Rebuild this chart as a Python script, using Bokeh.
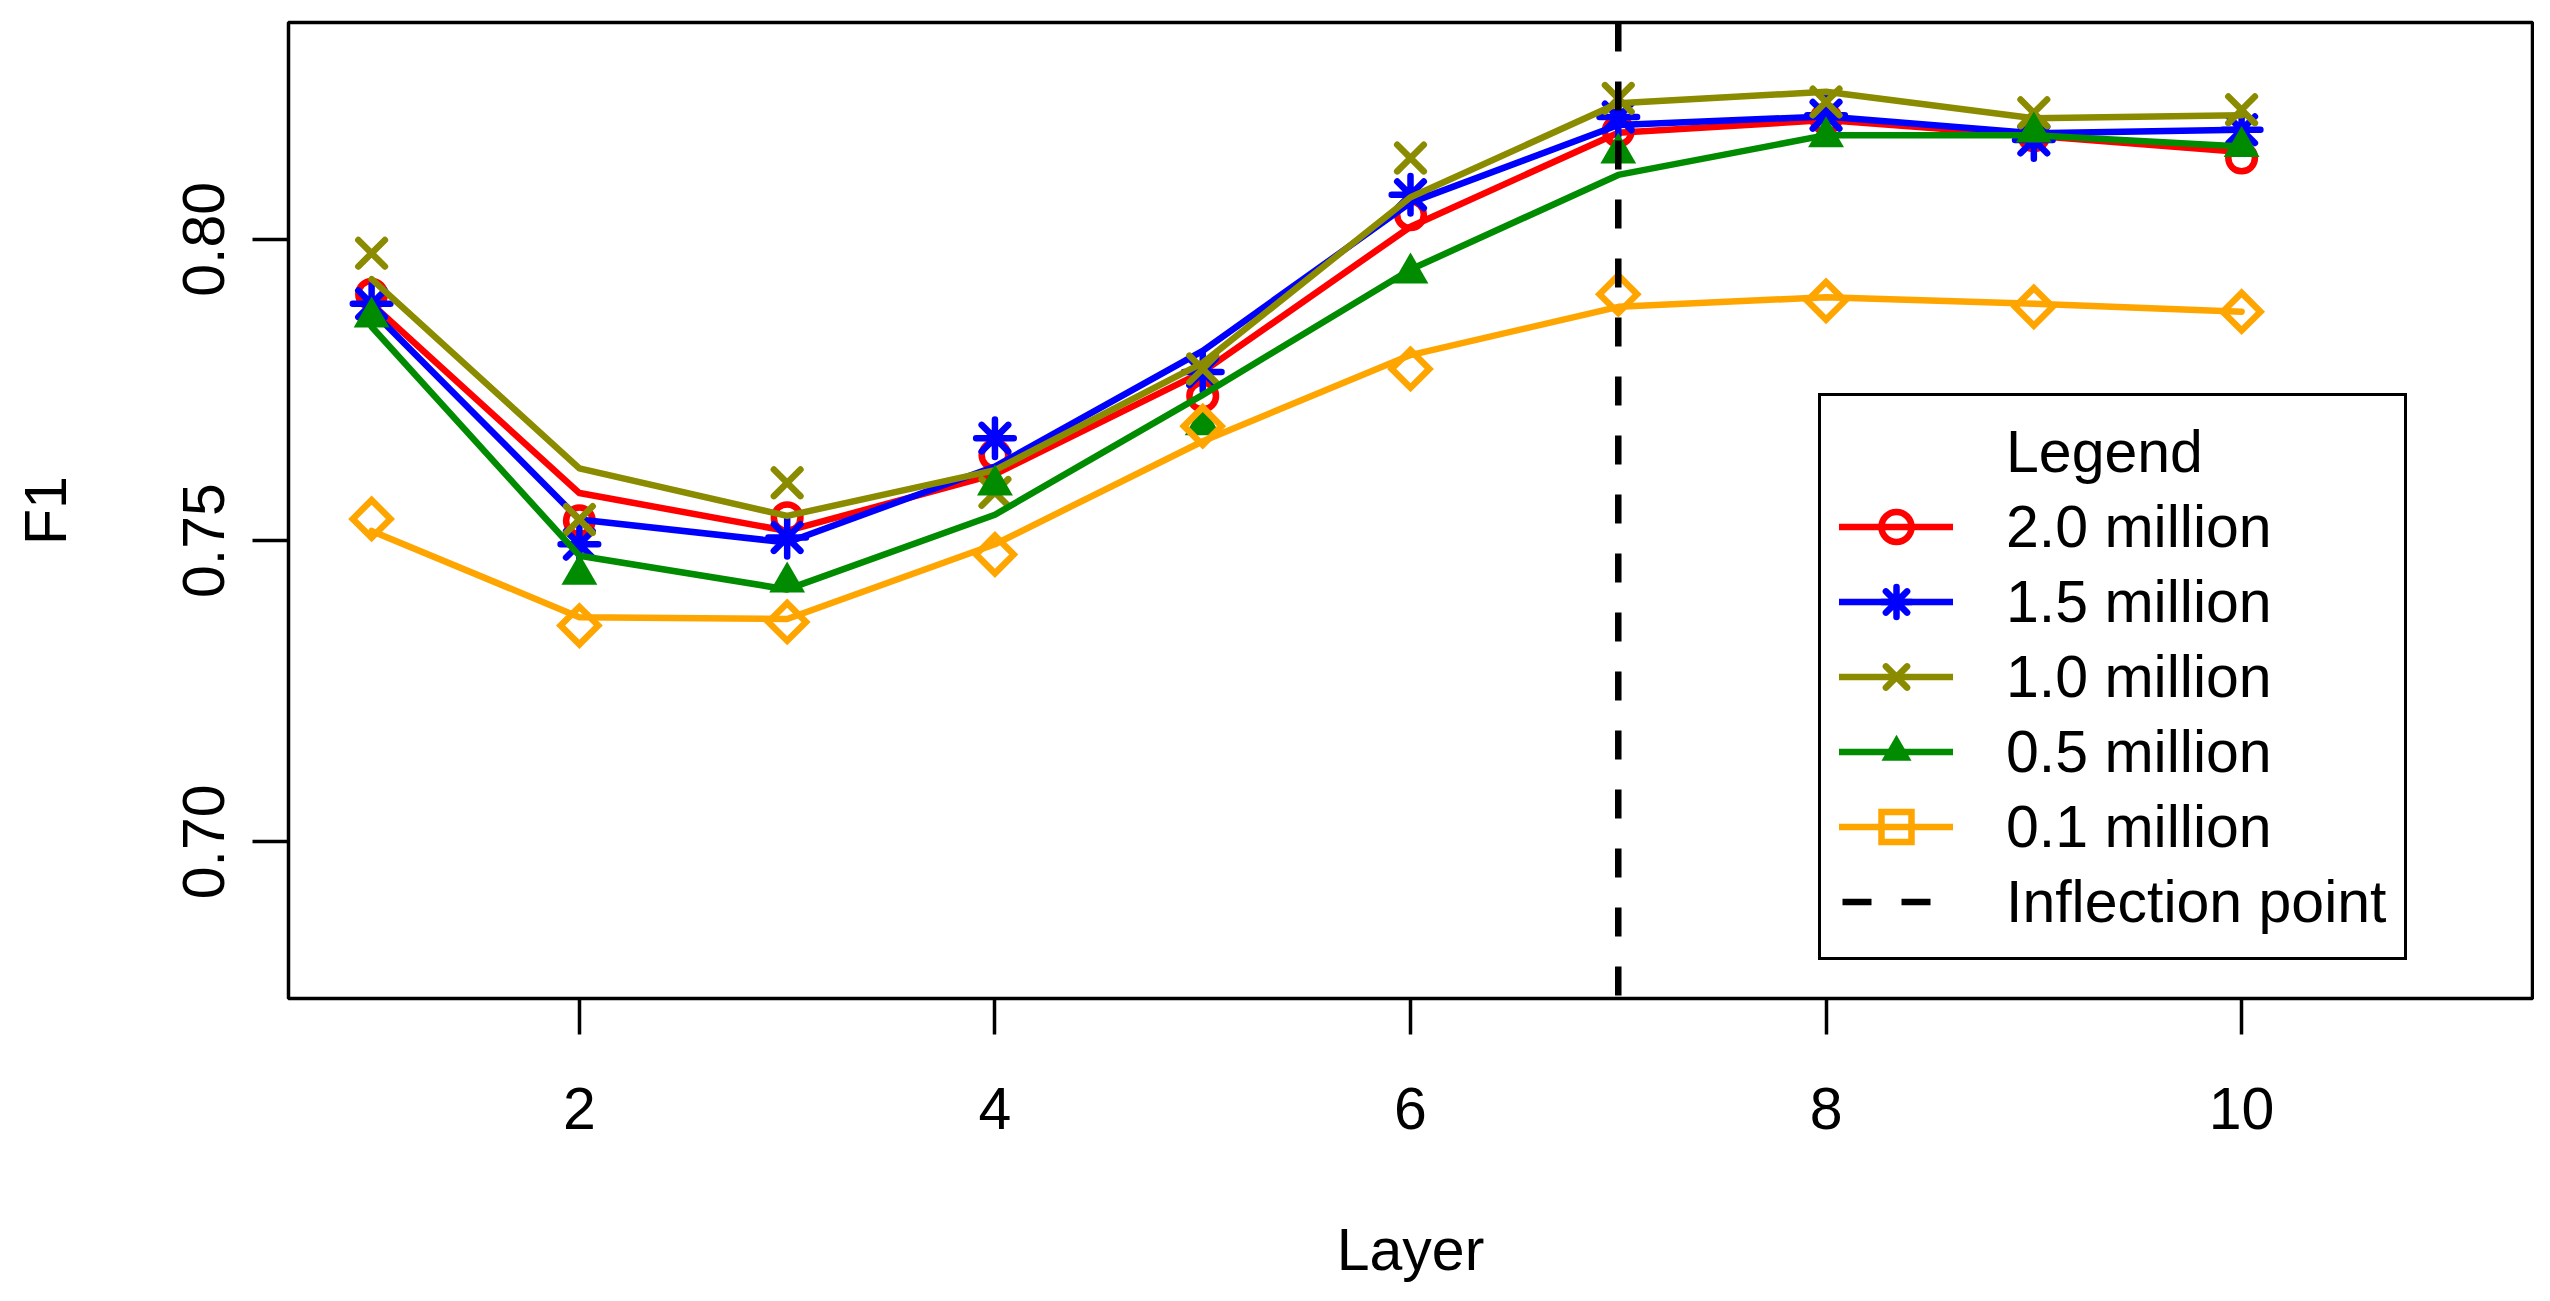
import math
from bokeh.plotting import figure
from bokeh.models import (Range1d, FixedTicker, PrintfTickFormatter,
                          Legend, LegendItem)
from bokeh.embed import file_html
from bokeh.resources import INLINE

# ---------------- data ----------------
layers = [1, 2, 3, 4, 5, 6, 7, 8, 9, 10]

names = ["2.0 million", "1.5 million", "1.0 million", "0.5 million", "0.1 million"]

# measured F1 (markers)
pts_2_0 = [0.7909, 0.7533, 0.7538, 0.7642, 0.7740, 0.8041, 0.8180, 0.8200, 0.8172, 0.8135]
pts_1_5 = [0.7893, 0.7494, 0.7505, 0.7670, 0.7780, 0.8074, 0.8203, 0.8206, 0.8165, 0.8182]
pts_1_0 = [0.7977, 0.7535, 0.7596, 0.7580, 0.7785, 0.8135, 0.8234, 0.8228, 0.8210, 0.8215]
pts_0_5 = [0.7871, 0.7444, 0.7431, 0.7592, 0.7692, 0.7944, 0.8143, 0.8170, 0.8178, 0.8154]
pts_0_1 = [0.7536, 0.7359, 0.7365, 0.7477, 0.7690, 0.7785, 0.7909, 0.7898, 0.7888, 0.7880]

# smoothed trend (lines)
line_2_0 = [0.7893, 0.7579, 0.7516, 0.7610, 0.7780, 0.8021, 0.8177, 0.8198, 0.8172, 0.8145]
line_1_5 = [0.7882, 0.7535, 0.7497, 0.7623, 0.7815, 0.8061, 0.8190, 0.8204, 0.8176, 0.8182]
line_1_0 = [0.7934, 0.7620, 0.7541, 0.7617, 0.7795, 0.8070, 0.8226, 0.8245, 0.8201, 0.8206]
line_0_5 = [0.7855, 0.7475, 0.7419, 0.7543, 0.7742, 0.7950, 0.8107, 0.8173, 0.8173, 0.8154]
line_0_1 = [0.7516, 0.7373, 0.7370, 0.7494, 0.7665, 0.7808, 0.7888, 0.7904, 0.7893, 0.7880]

inflection_layer = 7

x_ticks = [2, 4, 6, 8, 10]
y_ticks = [0.70, 0.75, 0.80]
x_limits = [1, 11]
y_limits = [0.68, 0.83]

colors = ["#FF0000", "#0000FF", "#8B8B00", "#008B00", "#FFA500"]

# ---------------- figure ----------------
FONT = "Liberation Sans"
FS = "59px"
LW = 6.5

def padded(lo, hi):
    d = 0.04 * (hi - lo)
    return lo - d, hi + d

xr = padded(*x_limits)
yr = padded(*y_limits)

p = figure(width=2534, height=1285, output_backend="svg", toolbar_location=None,
           x_range=Range1d(*xr), y_range=Range1d(*yr),
           min_border_left=288, min_border_right=2, min_border_top=22,
           min_border_bottom=285)
p.background_fill_color = "white"
p.border_fill_color = "white"
p.outline_line_color = "black"
p.outline_line_width = 3.5
p.outline_line_alpha = 1.0
p.xgrid.visible = False
p.ygrid.visible = False

for ax in (p.xaxis[0], p.yaxis[0]):
    ax.axis_line_color = None
    ax.major_tick_line_color = "black"
    ax.major_tick_line_width = 3.5
    ax.major_tick_in = 0
    ax.major_tick_out = 36
    ax.minor_tick_line_color = None
    ax.major_label_text_font = FONT
    ax.major_label_text_font_size = FS
    ax.major_label_text_color = "black"
    ax.axis_label_text_font = FONT
    ax.axis_label_text_font_size = FS
    ax.axis_label_text_font_style = "normal"
    ax.axis_label_text_color = "black"

p.xaxis.ticker = FixedTicker(ticks=x_ticks)
p.xaxis.axis_label = "Layer"
p.xaxis.major_label_standoff = 53
p.xaxis.axis_label_standoff = 85

p.yaxis.ticker = FixedTicker(ticks=y_ticks)
p.yaxis.formatter = PrintfTickFormatter(format="%.2f")
p.yaxis.major_label_orientation = "vertical"
p.yaxis.axis_label = "F1"
p.yaxis.major_label_standoff = 28
p.yaxis.axis_label_standoff = 102

R = 13.3
# (marker, size, filled, angle)
marker_specs = [
    ("circle", 2 * R, False, 0.0),
    ("asterisk", 2 * math.sqrt(2) * R, False, 0.0),
    ("x", 2 * math.sqrt(2) * R, False, 0.0),
    ("triangle", 2 * 1.3468 * R, True, 0.0),
    ("square", 2 * R, False, math.pi / 4),
]

pts_all = [pts_2_0, pts_1_5, pts_1_0, pts_0_5, pts_0_1]
lines_all = [line_2_0, line_1_5, line_1_0, line_0_5, line_0_1]

items = []
title_dummy = p.line(x=[], y=[], line_alpha=0)
items.append(LegendItem(label="Legend", renderers=[title_dummy]))

for name, pv, lv, col, spec in zip(names, pts_all, lines_all, colors, marker_specs):
    mk, sz, filled, ang = spec
    r_line = p.line(layers, lv, line_color=col, line_width=LW,
                    line_join="round", line_cap="round")
    if filled:
        r_pts = p.scatter(layers, pv, marker=mk, size=sz, angle=ang,
                          fill_color=col, line_color=None)
    else:
        r_pts = p.scatter(layers, pv, marker=mk, size=sz, angle=ang,
                          fill_color=None, line_color=col, line_width=LW,
                          line_cap="round", line_join="miter")
    items.append(LegendItem(label=name, renderers=[r_line, r_pts]))

# vertical dashed "inflection point" line spanning the full y range
r_infl = p.line([inflection_layer, inflection_layer], [yr[0], yr[1]],
                line_color="black", line_width=LW, line_dash="29 30",
                line_dash_offset=56)
items.append(LegendItem(label="Inflection point", renderers=[r_infl]))

legend = Legend(items=items, location=(1530, 38), margin=0, padding=18,
                spacing=0, glyph_width=114, glyph_height=75, label_height=75,
                label_standoff=53, border_line_color="black",
                border_line_width=3.5, border_line_alpha=1.0,
                background_fill_color="white", background_fill_alpha=1.0,
                label_text_font=FONT, label_text_font_size=FS,
                label_text_color="black")
p.add_layout(legend)

open("out.html", "w").write(file_html(p, INLINE))
